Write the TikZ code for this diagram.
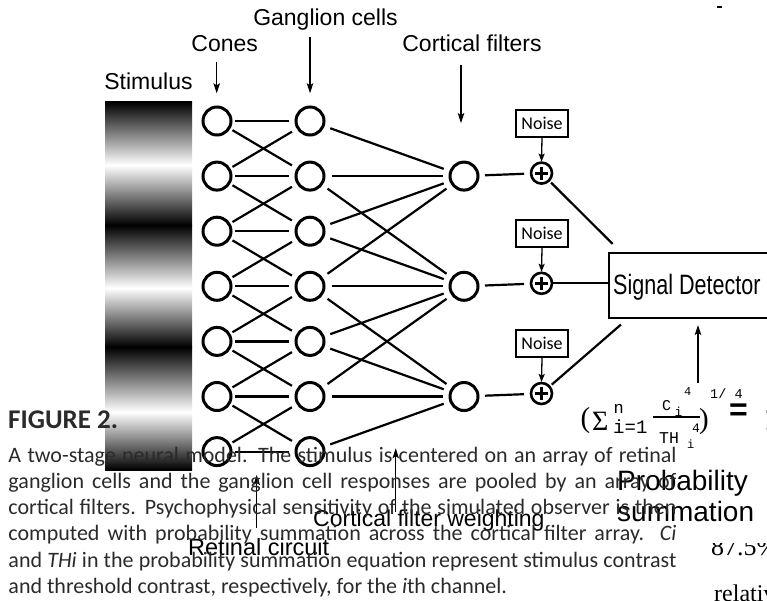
\documentclass[tikz,border=0pt]{standalone}
\usepackage{fontspec}
\usepackage{graphicx}
\setmainfont{Liberation Sans}
\newfontfamily\capfont{Carlito}
\newfontfamily\codefont{Liberation Mono}
\newfontfamily\timesfont{Liberation Serif}
\usetikzlibrary{arrows.meta}
\newcommand\fsz[1]{\fontsize{#1pt}{#1pt}\selectfont}
\newcommand\capline[1]{\hbox to 668pt{#1}}
\definecolor{captext}{HTML}{2A2A2A}

\begin{document}
\begin{tikzpicture}[x=1pt,y=-1pt,
  neuron/.style={circle,draw,line width=3pt,minimum size=28pt,inner sep=0pt,outer sep=0pt},
  adder/.style={circle,draw,line width=2.6pt,minimum size=21pt,inner sep=0pt,outer sep=0pt},
  link/.style={line width=2.2pt},
  noisebox/.style={draw,line width=2.2pt,minimum width=52pt,minimum height=27pt,inner sep=0pt,
    font=\capfont\fsz{18}},
  lbl/.style={inner sep=0pt,font=\fsz{23}},
  pointer/.style={line width=1.3pt,-{Stealth[length=10pt,width=6.5pt,inset=2pt]}},
  smallpointer/.style={line width=1.3pt,-{Stealth[length=8pt,width=6pt,inset=1.5pt]}},
  captxt/.style={inner sep=0pt,anchor=base west,text=captext,font=\capfont\fsz{22}},
  eq/.style={inner sep=0pt,anchor=base west}
]
\clip (0,0) rectangle (767,600);

% ---------- stimulus grating ----------
\foreach \ya/\yb/\ca/\cb in {101.7/165/black/white,165/225/white/black,225/288/black/white,
                             288/347/white/black,347/412/black/white,412/470/white/black}
  \shade[top color=\ca,bottom color=\cb] (105,\ya) rectangle (192,\yb);

% ---------- cones and ganglion cells ----------
\foreach \k in {1,...,7}{
  \pgfmathsetmacro\yy{121+55.1*(\k-1)}
  \node[neuron] (c\k) at (217,\yy) {};
  \node[neuron] (g\k) at (310,\yy) {};
}
% cortical filters, noise sources and adders
\foreach \k in {2,4,6}{
  \pgfmathsetmacro\yy{121+55.1*(\k-1)}
  \node[neuron] (f\k) at (464,\yy) {};
  \node[adder] (p\k) at (541.5,\yy-3) {};
  \draw[line width=3pt] ([xshift=-6.5pt]p\k.center) -- ([xshift=6.5pt]p\k.center);
  \draw[line width=3pt] ([yshift=-6.5pt]p\k.center) -- ([yshift=6.5pt]p\k.center);
  \node[noisebox] (n\k) at (542,\yy-53) {Noise};
  \draw[smallpointer,shorten >=1pt] (n\k.south) -- (p\k.north);
  \draw[link,shorten <=7pt,shorten >=7pt] (f\k) -- (p\k);
}

% cone -> ganglion wiring
\foreach \i/\j in {1/1,1/2,2/1,2/2,2/3,3/2,3/3,3/4,4/3,4/4,4/5,5/4,5/5,5/6,6/5,6/6,6/7,7/6,7/7}
  \draw[link,shorten <=4pt,shorten >=7pt] (c\i) -- (g\j);

% ganglion -> cortical filter pooling
\foreach \f/\lst in {2/{1,2,3,4},4/{2,3,4,5,6},6/{4,5,6,7}}
  \foreach \j in \lst
    \draw[link,shorten <=7.5pt,shorten >=7.5pt] (g\j) -- (f\f);

% ---------- signal detector ----------
\node[draw,line width=2.3pt,anchor=north west,minimum width=220pt,minimum height=65pt,inner sep=0pt]
  (det) at (607.7,251.7) {};
\node[inner sep=0pt,anchor=base west] (dettxt) at (613,294.3)
  {\scalebox{0.77}[1]{\fsz{28}Signal Detector}};
\coordinate (detTop) at (620.5,251.7);
\coordinate (detBot) at (630,316.7);
\draw[link,shorten <=3pt,shorten >=11pt] (p2) -- (detTop);
\draw[link] (p4) -- (p4 -| det.west);
\draw[link,shorten <=3pt,shorten >=12pt] (p6) -- (detBot);

% ---------- labels with pointers ----------
\node[lbl,anchor=base] (stim) at (148.5,89.3) {Stimulus};
\node[lbl,anchor=base] (cones) at (224.7,51.7) {Cones};
\node[lbl,anchor=base] (gang) at (325.5,25) {Ganglion cells};
\node[lbl,anchor=base] (cort) at (472,51.7) {Cortical filters};
\coordinate (conesA) at (216.7,61.7);
\coordinate (gangA) at (310,36.7);
\coordinate (cortA) at (461,65);
\draw[pointer,shorten >=13.7pt] (conesA) -- (conesA |- c1.north);
\draw[pointer,shorten >=13.7pt] (gangA) -- (gangA |- g1.north);
\draw[pointer,shorten >=39pt] (cortA) -- (cortA |- f2.north);

\coordinate (probA) at (698,383);
\draw[pointer,shorten >=6pt] (probA) -- (probA |- det.south);

\node[lbl,anchor=base west,font=\fsz{28}] (prob1) at (617,490) {Probability};
\node[lbl,anchor=base west,font=\fsz{28}] (prob2) at (617,521.7) {summation};

\node[lbl,anchor=base west] (cfw) at (313,526.7) {Cortical filter weighting};
\coordinate (cfwA) at (395.7,511.7);
\coordinate (cfwB) at (395.7,448.3);
\draw[pointer] (cfwA) -- (cfwB);

\node[lbl,anchor=base west,font=\fsz{23.5}] (ret) at (188,555) {Retinal circuit};
\coordinate (retA) at (256.7,528);
\coordinate (retB) at (256.7,475);
\draw[pointer] (retA) -- (retB);

% ---------- summation formula ----------
\node[eq] (lp) at (580.5,427) {\timesfont\fsz{29}(};
\node[eq] (sig) at (592,430) {\timesfont\fsz{28}Σ};
\node[eq] (sup n) at (613.5,413) {\codefont\fsz{17}n};
\node[eq] (sub i) at (613,433) {\codefont\fsz{19}i=1};
\coordinate (barL) at (653,416.7);
\coordinate (barR) at (700,416.7);
\draw[line width=2.2pt] (barL) -- (barR);
\node[eq] (numC) at (662,410) {\codefont\fsz{15}C};
\node[eq] (numi) at (674.5,416) {\codefont\fsz{13}i};
\node[eq] (num4) at (684,395) {\codefont\fsz{12}4};
\node[eq] (denTH) at (659,443) {\codefont\fsz{16.5}TH};
\node[eq] (deni) at (687,448) {\codefont\fsz{12}i};
\node[eq] (den4) at (692,432) {\codefont\fsz{13}4};
\node[eq] (rp) at (699,428) {\timesfont\fsz{29})};
\node[eq] (expo) at (710,398) {\codefont\fsz{13.5}1/ 4};
\node[eq] (equ) at (729,420) {\fsz{32}\bfseries =};
\node[eq] (one) at (764,430) {\codefont\fsz{36}1};

\coordinate (dashA) at (717,7);
\coordinate (dashB) at (722,7);
\draw[line width=1.2pt] (dashA) -- (dashB);

% ---------- partly hidden text at the lower right ----------
\begin{scope}
  \clip (700,543) rectangle (767,560);
  \node[eq] (pct) at (711,555) {\timesfont\fsz{26}87.5\%};
\end{scope}
\node[eq] (rel) at (714,601) {\timesfont\fsz{24}relative};

% ---------- caption ----------
\node[captxt,font=\capfont\bfseries\fsz{27}] (figno) at (8,428) {FIGURE 2.};
\node[captxt] (cap1) at (8.3,462)   {\capline{A two-stage neural model. The stimulus is centered on an array of retinal}};
\node[captxt] (cap2) at (8.3,488.3) {\capline{ganglion cells and the ganglion cell responses are pooled by an array of}};
\node[captxt] (cap3) at (8.3,514.6) {\capline{cortical filters. Psychophysical sensitivity of the simulated observer is then}};
\node[captxt] (cap4) at (8.3,540.9) {\capline{computed with probability summation across the cortical filter array. \textit{Ci}}};
\node[captxt] (cap5) at (8.3,567.2) {\capline{and \textit{THi} in the probability summation equation represent stimulus contrast}};
\node[captxt] (cap6) at (8.3,593.5) {and threshold contrast, respectively, for the \textit{i}th channel.};
\end{tikzpicture}
\end{document}
